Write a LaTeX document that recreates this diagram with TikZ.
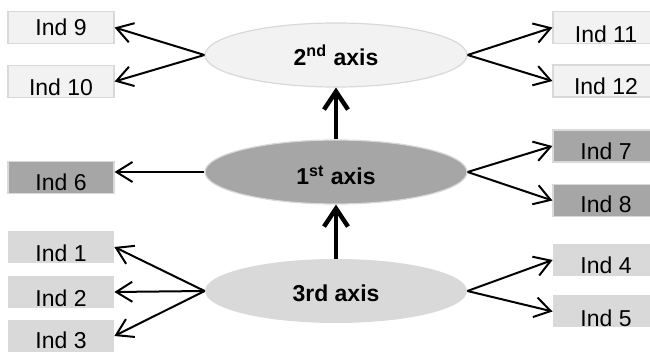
\documentclass[tikz,border=0pt]{standalone}
\usepackage{fontspec}
\setmainfont{Liberation Sans}
\usetikzlibrary{shapes.geometric,arrows.meta}

\definecolor{paleGray}{HTML}{F2F2F2}
\definecolor{lightGray}{HTML}{D9D9D9}
\definecolor{midGray}{HTML}{A6A6A6}

\begin{document}
\begin{tikzpicture}[x=0.5pt,y=-0.5pt,font=\fontsize{11.5}{13}\selectfont,
    ind/.style={rectangle,inner sep=0pt,minimum width=53pt,minimum height=16pt},
    topbox/.style={ind,fill=paleGray,draw=lightGray,line width=0.6pt},
    midbox/.style={ind,fill=midGray,draw=lightGray,line width=0.6pt},
    lowbox/.style={ind,fill=lightGray},
    axis/.style={ellipse,inner sep=0pt,minimum width=131pt,minimum height=32pt,font=\fontsize{11.5}{13}\selectfont\bfseries},
    link/.style={-{Straight Barb[length=8pt,width=10pt]},line width=1pt},
    climb/.style={-{Straight Barb[length=9pt,width=12pt]},line width=2.2pt}]
      \useasboundingbox (0,0) rectangle (650,352);
      \clip (0,0) rectangle (650,352);
      % the three axes, bottom to top
      \node[axis,fill=paleGray,draw=lightGray,line width=0.6pt] (second) at (336,55)
        {2\textsuperscript{nd} axis};
      \node[axis,fill=midGray,draw=lightGray,line width=0.6pt,text height=13pt,text depth=0pt] (first) at (336,172)
        {1\textsuperscript{st} axis};
      \node[axis,fill=lightGray,text height=11pt,text depth=0pt] (third) at (336,291)
        {3rd axis};
      % id / x / y / baseline above box bottom / style
      \def \Boxes{
        9/61/27.5/4/topbox,
        10/61/81.5/1/topbox,
        11/606/27.5/0.5/topbox,
        12/606/81/1/topbox,
        6/61/177.5/1.5/midbox,
        7/606/146/1/midbox,
        8/606/200.5/2/midbox,
        1/61/247/0.5/lowbox,
        2/61/292/0.5/lowbox,
        3/61/336/1.8/lowbox,
        4/606/260/1/lowbox,
        5/606/311.5/0.5/lowbox}
      \foreach \id / \x / \y / \d / \kind in \Boxes{
        \pgfmathsetmacro\h{16-\d}
        \node[\kind,text depth=\d pt,text height=\h pt] (ind\id) at (\x,\y) {Ind \id};
      }
      \def \LeftEdges{
        second/9, second/10, third/1, third/2, third/3}
      \def \RightEdges{
        second/11, second/12, first/7, first/8, third/4, third/5}
      \foreach \x / \y in \LeftEdges{
        \path[draw,link] (\x.west) -- (ind\y.east);
      }
      \foreach \x / \y in \RightEdges{
        \path[draw,link] (\x.east) -- (ind\y.west);
      }
      % level arrow into Ind 6
      \path[draw,link] (first.west) -- (first.west -| ind6.east);
      \path[draw,climb] (third.north) -- (first.south);
      \path[draw,climb] (first.north) -- (second.south);
    \end{tikzpicture}
\end{document}
